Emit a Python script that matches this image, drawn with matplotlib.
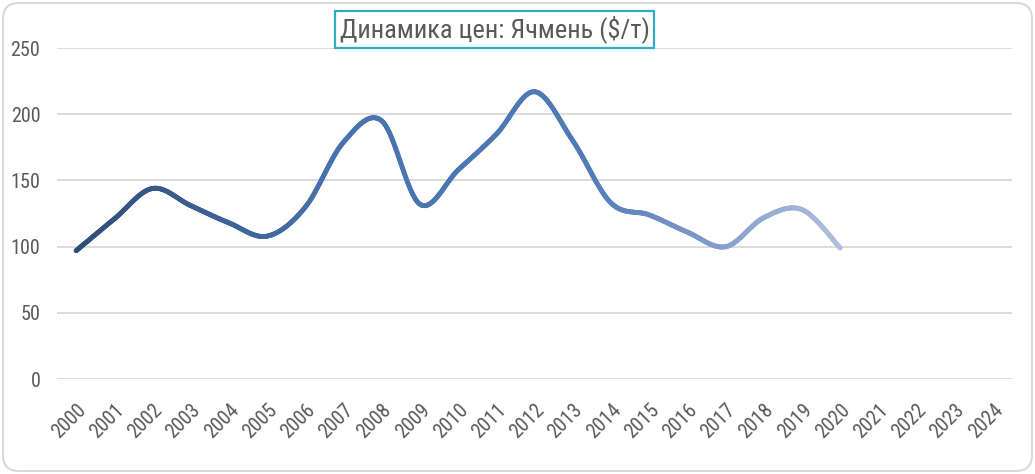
import numpy as np
import matplotlib
matplotlib.use("Agg")
import matplotlib.pyplot as plt
from matplotlib.collections import LineCollection
from matplotlib.colors import LinearSegmentedColormap
from matplotlib.patches import FancyBboxPatch

plt.rcParams['font.family'] = ['Roboto Condensed', 'DejaVu Sans']

years = [str(y) for y in range(2000, 2025)]
prices = [97, 121, 144, 131, 118, 108, 130, 179, 195, 132, 158, 185, 217, 180, 133, 124, 111, 100, 122, 128, 99]
title = "Динамика цен: Ячмень ($/т)"
yticks = [0, 50, 100, 150, 200, 250]

text_col = "#595959"
grid_col = "#D9D9D9"

# excel-like smooth curve through the points (bezier, 1/6 tangents)
def smooth(x, y, steps=40):
    px = np.asarray(x, float)
    py = np.asarray(y, float)
    n = len(px)
    xs, ys = [], []
    for i in range(n - 1):
        p0 = max(i - 1, 0)
        p3 = min(i + 2, n - 1)
        c1x = px[i] + (px[i + 1] - px[p0]) / 6
        c1y = py[i] + (py[i + 1] - py[p0]) / 6
        c2x = px[i + 1] - (px[p3] - px[i]) / 6
        c2y = py[i + 1] - (py[p3] - py[i]) / 6
        t = np.linspace(0, 1, steps, endpoint=(i == n - 2))
        a = (1 - t) ** 3
        b = 3 * (1 - t) ** 2 * t
        c = 3 * (1 - t) * t ** 2
        d = t ** 3
        xs.append(a * px[i] + b * c1x + c * c2x + d * px[i + 1])
        ys.append(a * py[i] + b * c1y + c * c2y + d * py[i + 1])
    return np.concatenate(xs), np.concatenate(ys)

fig = plt.figure(figsize=(10.35, 4.74), dpi=100)
border = FancyBboxPatch((0.03, 0.03), 10.29, 4.68, boxstyle="round,pad=0,rounding_size=0.16",
                        transform=fig.dpi_scale_trans, facecolor="white",
                        edgecolor=grid_col, linewidth=1.5, zorder=-10)
fig.patches.append(border)

ax = fig.add_axes([0.0551, 0.2, 0.9229, 0.6987])
ax.set_facecolor("none")

x = np.arange(len(prices))
sx, sy = smooth(x, prices)
pts = np.column_stack([sx, sy]).reshape(-1, 1, 2)
segs = np.concatenate([pts[:-1], pts[1:]], axis=1)
cmap = LinearSegmentedColormap.from_list("g", ["#2E4D78", "#4872AD", "#517BB7", "#AFBEDC"])
cvals = (sx[:-1] + sx[1:]) / 2 / (len(prices) - 1)
lc = LineCollection(segs, colors=cmap(cvals), linewidth=3.5, capstyle="round", joinstyle="round", zorder=3)
ax.add_collection(lc)

ax.set_xlim(-0.5, len(years) - 0.5)
ax.set_ylim(0, 250)
ax.set_yticks(yticks)
ax.set_yticklabels([str(v) for v in yticks])
ax.set_xticks(np.arange(len(years)))
ax.set_xticklabels(years, rotation=45, ha="right", va="top", rotation_mode="anchor")
ax.grid(axis="y", color=grid_col, linewidth=1.3)
ax.set_axisbelow(True)
for s in ax.spines.values():
    s.set_visible(False)
ax.tick_params(axis="both", length=0, colors=text_col, labelsize=14.5)
ax.tick_params(axis="x", pad=15)
ax.tick_params(axis="y", pad=12)

fig.text(0.478, 0.938, title, ha="center", va="center", fontsize=19, color=text_col,
         bbox=dict(boxstyle="square,pad=0.18", facecolor="white", edgecolor="#31A9C9", linewidth=1.6))

fig.savefig("out.png", dpi=100)
